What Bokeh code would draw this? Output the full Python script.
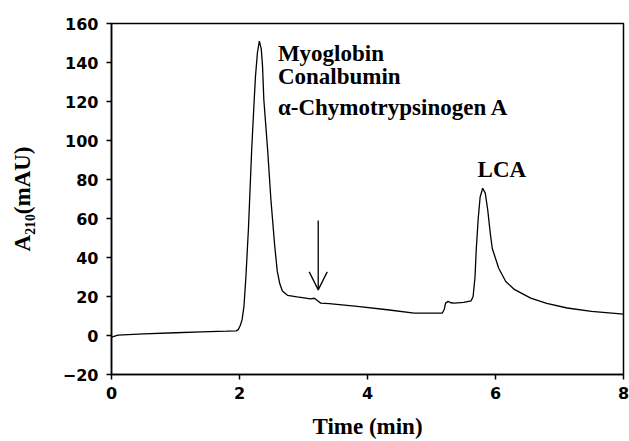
from bokeh.plotting import figure
from bokeh.models import Range1d, FixedTicker, Label, Arrow, OpenHead
from bokeh.embed import file_html
from bokeh.resources import INLINE

# Chromatogram trace (time in min, absorbance in mAU)
time_min = [0.00, 0.04, 0.10, 0.50, 1.00, 1.40, 1.80, 1.95, 1.98, 2.01, 2.04, 2.07, 2.10,
            2.14, 2.19, 2.23, 2.25, 2.28, 2.31, 2.34, 2.36, 2.38, 2.41, 2.44, 2.49, 2.55,
            2.59, 2.63, 2.67, 2.75, 2.90, 3.11, 3.17, 3.22, 3.27, 3.40, 3.84, 4.31, 4.73,
            5.17, 5.20, 5.22, 5.26, 5.30, 5.36, 5.50, 5.62, 5.65, 5.68, 5.70, 5.73, 5.76,
            5.80, 5.84, 5.88, 5.92, 5.95, 6.05, 6.16, 6.30, 6.55, 6.80, 7.12, 7.50, 8.00]
absorbance = [-1.0, -0.4, 0.2, 0.8, 1.4, 1.9, 2.2, 2.4, 3.0, 5.0, 8.0, 15.0, 30.0,
              55.0, 95.0, 121.0, 133.0, 145.0, 151.0, 147.0, 138.0, 121.0, 108.0, 95.0, 70.0, 46.0,
              33.0, 26.5, 22.8, 20.6, 19.8, 18.8, 19.1, 17.8, 16.6, 16.3, 14.9, 13.2, 11.5,
              11.5, 13.5, 16.6, 17.5, 16.8, 16.6, 17.0, 17.8, 20.0, 30.0, 44.6, 60.0, 71.0,
              75.5, 73.0, 64.0, 52.0, 44.6, 34.5, 27.7, 23.5, 19.2, 16.5, 14.1, 12.4, 11.0]

x_ticks = [0, 2, 4, 6, 8]
y_ticks = [-20, 0, 20, 40, 60, 80, 100, 120, 140, 160]

peak1_labels = ["Myoglobin", "Conalbumin", "\u03b1-Chymotrypsinogen A"]
peak1_label_x = 2.60
peak1_label_y = [144.8, 132.6, 116.8]
peak2_label = "LCA"
peak2_label_x = 5.72
peak2_label_y = 84.9

arrow_x = 3.23
arrow_y_start = 59.0
arrow_y_end = 23.4

p = figure(width=629, height=441, output_backend="svg", toolbar_location=None,
           x_range=Range1d(0, 8), y_range=Range1d(-20, 160),
           min_border_left=111, min_border_right=6, min_border_top=23, min_border_bottom=64)

p.background_fill_color = "white"
p.border_fill_color = "white"
p.xgrid.visible = False
p.ygrid.visible = False
p.outline_line_color = "black"
p.outline_line_width = 1.5

p.line(time_min, absorbance, line_color="black", line_width=1.3)

for ax in (p.xaxis[0], p.yaxis[0]):
    ax.axis_line_width = 1.5
    ax.axis_line_color = "black"
    ax.major_tick_line_color = "black"
    ax.major_tick_line_width = 1.5
    ax.major_tick_out = 5
    ax.major_tick_in = 0
    ax.minor_tick_line_color = None
    ax.major_label_text_font = "DejaVu Sans"
    ax.major_label_text_font_style = "bold"
    ax.major_label_text_font_size = "16px"
    ax.major_label_text_color = "black"
    ax.axis_label_text_font = "Liberation Serif"
    ax.axis_label_text_font_style = "bold"
    ax.axis_label_text_font_size = "23px"
    ax.axis_label_text_color = "black"

p.xaxis[0].ticker = FixedTicker(ticks=x_ticks)
p.yaxis[0].ticker = FixedTicker(ticks=y_ticks)
p.xaxis[0].major_label_standoff = 7
p.yaxis[0].major_label_standoff = 8
p.xaxis[0].axis_label = "Time (min)"
p.xaxis[0].axis_label_standoff = 12
p.yaxis[0].axis_label = "A\u2082\u2081\u2080(mAU)"
p.yaxis[0].axis_label_standoff = 25

for txt, yy in zip(peak1_labels, peak1_label_y):
    p.add_layout(Label(x=peak1_label_x, y=yy, text=txt, text_font="Liberation Serif",
                       text_font_style="bold", text_font_size="23px", text_color="black",
                       text_baseline="alphabetic", text_align="left"))
p.add_layout(Label(x=peak2_label_x, y=peak2_label_y, text=peak2_label, text_font="Liberation Serif",
                   text_font_style="bold", text_font_size="23px", text_color="black",
                   text_baseline="alphabetic", text_align="left"))

p.add_layout(Arrow(end=OpenHead(size=18, line_width=1.3, line_color="black"),
                   x_start=arrow_x, y_start=arrow_y_start, x_end=arrow_x, y_end=arrow_y_end,
                   line_width=1.3, line_color="black"))

open("out.html", "w").write(file_html(p, INLINE))
